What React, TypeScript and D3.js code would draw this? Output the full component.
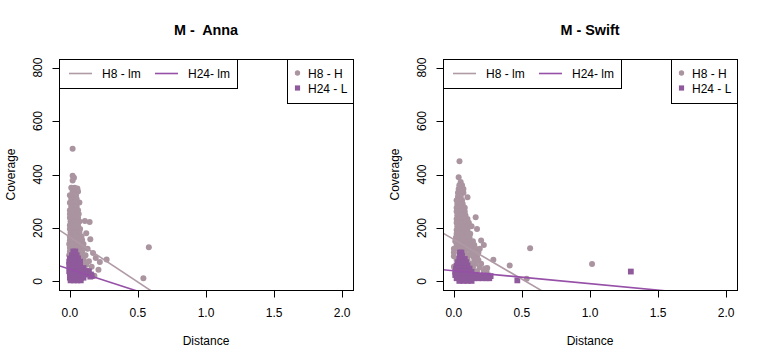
import React from "react";
import * as d3 from "d3";

type P = [number, number];

const xTicks = [0, 0.5, 1, 1.5, 2];
const xTickLabels = ["0.0", "0.5", "1.0", "1.5", "2.0"];
const yTicks = [0, 200, 400, 600, 800];
const panelTitles = ["M -  Anna", "M - Swift"];
const pointNames = ["H8 - H", "H24 - L"];
const lineNames = ["H8 - lm", "H24- lm"];

// Anna, H8 (circles)
const annaH8: P[] = [
  [0.02, 496], [0.02, 395], [0.03, 388], [0.02, 378], [0.07, 295], [0.11, 226], [0.145, 222],
  [0.12, 180], [0.15, 158], [0.09, 155], [0.1, 140], [0.13, 122], [0.17, 106], [0.115, 98],
  [0.19, 88], [0.27, 82], [0.14, 76], [0.22, 73], [0.12, 62], [0.16, 55], [0.21, 44], [0.13, 40],
  [0.18, 21], [0.58, 128], [0.54, 12],
  [0.01, 350], [0.035, 350], [0.055, 348],
  [0.02, 336], [0.04, 336], [0.06, 336],
  [0.0, 322], [0.025, 322], [0.045, 322],
  [0.01, 308], [0.03, 308], [0.05, 308],
  [0.0, 294], [0.02, 294], [0.04, 294],
  [0.01, 280], [0.03, 280], [0.05, 280],
  [0.0, 266], [0.02, 266], [0.04, 266], [0.06, 266],
  [0.0, 252], [0.025, 252], [0.05, 252], [0.065, 252],
  [0.0, 238], [0.02, 238], [0.04, 238], [0.06, 238],
  [0.005, 224], [0.03, 224], [0.05, 224], [0.07, 224],
  [0.0, 210], [0.02, 210], [0.04, 210], [0.06, 210],
  [0.0, 196], [0.025, 196], [0.05, 196], [0.075, 196],
  [0.005, 182], [0.03, 182], [0.05, 182], [0.07, 182],
  [0.0, 168], [0.02, 168], [0.04, 168], [0.06, 168], [0.085, 168],
  [0.0, 154], [0.025, 154], [0.05, 154], [0.07, 154],
  [-0.005, 140], [0.02, 140], [0.04, 140], [0.06, 140], [0.08, 140],
  [0.0, 126], [0.025, 126], [0.05, 126], [0.075, 126], [0.1, 126],
  [0.0, 112], [0.02, 112], [0.045, 112], [0.07, 112], [0.09, 112],
  [-0.005, 98], [0.02, 98], [0.04, 98], [0.065, 98], [0.09, 98],
  [0.0, 84], [0.03, 84], [0.06, 84], [0.08, 84], [0.1, 84],
  [0.0, 70], [0.03, 70], [0.06, 70], [0.09, 70], [0.12, 70],
  [0.0, 56], [0.04, 56], [0.08, 56], [0.1, 56],
  [0.0, 42], [0.05, 42], [0.09, 42], [0.11, 42],
  [0.02, 28], [0.06, 28], [0.1, 28],
  [0.03, 14], [0.08, 14],
];

// Anna, H24 (squares)
const annaH24: P[] = [
  [0.025, 112], [0.04, 112],
  [0.015, 98], [0.035, 98], [0.05, 98],
  [0.0, 86], [0.02, 86], [0.04, 86], [0.06, 86],
  [-0.005, 74], [0.02, 74], [0.04, 74], [0.06, 74], [0.075, 74],
  [-0.005, 62], [0.015, 62], [0.035, 62], [0.055, 62], [0.075, 62],
  [0.0, 50], [0.02, 50], [0.04, 50], [0.06, 50], [0.08, 50], [0.1, 50],
  [-0.005, 38], [0.015, 38], [0.035, 38], [0.055, 38], [0.075, 38], [0.095, 38], [0.12, 38], [0.14, 38],
  [0.0, 26], [0.02, 26], [0.04, 26], [0.06, 26], [0.08, 26], [0.1, 26], [0.13, 26], [0.155, 26],
  [0.0, 14], [0.02, 14], [0.04, 14], [0.06, 14], [0.08, 14], [0.1, 14], [0.15, 18], [0.16, 20],
  [0.005, 4], [0.03, 4], [0.055, 4], [0.08, 4],
];

// Swift, H8 (circles)
const swiftH8: P[] = [
  [0.041, 450], [0.035, 390], [0.05, 372], [0.41, 60], [0.56, 124], [0.535, 10], [1.015, 65],
  [0.2, 153], [0.16, 240], [0.0, 55], [0.29, 81], [0.245, 50],
  [0.04, 360], [0.06, 360],
  [0.035, 346], [0.055, 346], [0.07, 346],
  [0.03, 332], [0.05, 332], [0.07, 332],
  [0.03, 318], [0.05, 318], [0.1, 315],
  [0.02, 304], [0.04, 304], [0.06, 304],
  [0.025, 290], [0.045, 290], [0.065, 290],
  [0.02, 276], [0.04, 276], [0.06, 276], [0.08, 276],
  [0.02, 262], [0.04, 262], [0.06, 262], [0.08, 262],
  [0.025, 248], [0.045, 248], [0.065, 248], [0.085, 248],
  [0.02, 234], [0.04, 234], [0.06, 234], [0.08, 234], [0.1, 234],
  [0.02, 220], [0.045, 220], [0.07, 220], [0.09, 220], [0.11, 220],
  [0.025, 206], [0.05, 206], [0.075, 206], [0.1, 206], [0.13, 206],
  [0.02, 192], [0.04, 192], [0.06, 192], [0.08, 192], [0.1, 192], [0.17, 196],
  [0.02, 178], [0.045, 178], [0.07, 178], [0.095, 178], [0.12, 178],
  [0.015, 164], [0.04, 164], [0.065, 164], [0.09, 164], [0.115, 164],
  [0.01, 150], [0.035, 150], [0.06, 150], [0.085, 150], [0.11, 150], [0.14, 150],
  [0.02, 136], [0.045, 136], [0.07, 136], [0.095, 136], [0.12, 136], [0.15, 136], [0.22, 136],
  [0.0, 122], [0.03, 122], [0.055, 122], [0.08, 122], [0.105, 122], [0.13, 122], [0.16, 122], [0.19, 122],
  [0.0, 108], [0.04, 108], [0.08, 108], [0.12, 108], [0.15, 108], [0.18, 108],
  [0.0, 94], [0.05, 94], [0.1, 94], [0.14, 94], [0.17, 94],
  [0.02, 80], [0.1, 80], [0.15, 80], [0.18, 80],
  [0.03, 66], [0.12, 66], [0.16, 66], [0.2, 66],
  [0.14, 52], [0.19, 52], [0.23, 48],
  [0.17, 38], [0.22, 38], [0.24, 36],
];

// Swift, H24 (squares)
const swiftH24: P[] = [
  [0.466, 4], [1.3, 37],
  [0.045, 108], [0.055, 108],
  [0.045, 96], [0.06, 96],
  [0.04, 84], [0.06, 84], [0.08, 84],
  [0.03, 72], [0.05, 72], [0.07, 72], [0.09, 72],
  [0.02, 60], [0.04, 60], [0.06, 60], [0.08, 60], [0.1, 60],
  [0.015, 48], [0.035, 48], [0.055, 48], [0.075, 48], [0.095, 48], [0.115, 48],
  [0.01, 36], [0.03, 36], [0.05, 36], [0.07, 36], [0.09, 36], [0.11, 36], [0.13, 36],
  [0.01, 24], [0.03, 24], [0.05, 24], [0.07, 24], [0.09, 24], [0.11, 24], [0.13, 24], [0.16, 24],
  [0.19, 22], [0.22, 22], [0.25, 22], [0.27, 20],
  [0.02, 12], [0.04, 12], [0.06, 12], [0.08, 12], [0.1, 12], [0.12, 12], [0.15, 12], [0.18, 12],
  [0.21, 12], [0.24, 12], [0.26, 12],
  [0.04, 2], [0.07, 2], [0.1, 2], [0.13, 2],
];

// Fitted lines: [intercept, slope]
const annaH8Fit: P = [166, -337];
const annaH24Fit: P = [45.7, -165];
const swiftH8Fit: P = [157, -297];
const swiftH24Fit: P = [39.8, -48.2];

const H8_COL = "#AA94A0";
const H24_COL = "#8F5A9B";
const H8_LINE = "#B09AA6";
const H24_LINE = "#9650A8";
const FONT = "'Liberation Sans', Arial, Helvetica, sans-serif";
const R = 3;
const S = 5.8;

function Panel({ dx, title, h8, h24, fit8, fit24, id }: { dx: number; title: string; h8: P[]; h24: P[]; fit8: P; fit24: P; id: string }) {
  const left = 59 + dx, right = 353 + dx, top = 59, bottom = 290;
  const x = d3.scaleLinear().domain([-0.08, 2.08]).range([left, right]);
  const y = d3.scaleLinear().domain([-32, 832]).range([bottom, top]);
  const cx = (left + right) / 2;
  const lineGen = d3.line<P>().x((d) => x(d[0])).y((d) => y(d[1]));
  const fitPts = (f: P): P[] => x.domain().map((v) => [v, f[0] + f[1] * v] as P);
  return (
    <g fontFamily={FONT}>
      <defs>
        <clipPath id={id}>
          <rect x={left} y={top} width={right - left} height={bottom - top} />
        </clipPath>
      </defs>
      <text x={cx} y={35} textAnchor="middle" fontWeight="bold" fontSize={14.4} style={{ whiteSpace: "pre" }}>{title}</text>
      <g clipPath={`url(#${id})`}>
        {h8.map((d, i) => (
          <circle key={"a" + i} cx={x(d[0])} cy={y(d[1])} r={R} fill={H8_COL} />
        ))}
        {h24.map((d, i) => (
          <rect key={"b" + i} x={x(d[0]) - S / 2} y={y(d[1]) - S / 2} width={S} height={S} fill={H24_COL} />
        ))}
        <path d={lineGen(fitPts(fit8)) || ""} stroke={H8_LINE} strokeWidth={1.6} fill="none" />
        <path d={lineGen(fitPts(fit24)) || ""} stroke={H24_LINE} strokeWidth={1.6} fill="none" />
      </g>
      <rect x={left + 0.5} y={top + 0.5} width={right - left} height={bottom - top} fill="none" stroke="#000" strokeWidth={1} />
      {xTicks.map((t, i) => (
        <g key={"x" + i}>
          <line x1={Math.round(x(t)) + 0.5} x2={Math.round(x(t)) + 0.5} y1={bottom + 0.5} y2={bottom + 7.5} stroke="#000" />
          <text x={x(t)} y={317} textAnchor="middle" fontSize={12}>{xTickLabels[i]}</text>
        </g>
      ))}
      {yTicks.map((t, i) => (
        <g key={"y" + i}>
          <line x1={left + 0.5} x2={left - 6.5} y1={Math.round(y(t)) + 0.5} y2={Math.round(y(t)) + 0.5} stroke="#000" />
          <text transform={`translate(${42 + dx},${y(t)}) rotate(-90)`} textAnchor="middle" fontSize={12}>{t}</text>
        </g>
      ))}
      <text x={cx} y={345} textAnchor="middle" fontSize={12}>Distance</text>
      <text transform={`translate(${15 + dx},${(top + bottom) / 2}) rotate(-90)`} textAnchor="middle" fontSize={12}>Coverage</text>
      {/* line legend */}
      <rect x={left + 0.5} y={top + 0.5} width={178} height={29} fill="#fff" stroke="#000" />
      <line x1={69 + dx} x2={92 + dx} y1={73.5} y2={73.5} stroke={H8_LINE} strokeWidth={1.6} />
      <text x={102 + dx} y={78} fontSize={12}>{lineNames[0]}</text>
      <line x1={155 + dx} x2={178 + dx} y1={73.5} y2={73.5} stroke={H24_LINE} strokeWidth={1.6} />
      <text x={188 + dx} y={78} fontSize={12}>{lineNames[1]}</text>
      {/* point legend */}
      <rect x={287.5 + dx} y={top + 0.5} width={66} height={44} fill="#fff" stroke="#000" />
      <circle cx={297.5 + dx} cy={73} r={2.7} fill={H8_COL} />
      <text x={308 + dx} y={77.5} fontSize={12}>{pointNames[0]}</text>
      <rect x={294.9 + dx} y={85.4} width={5.2} height={5.2} fill={H24_COL} />
      <text x={308 + dx} y={92.5} fontSize={12}>{pointNames[1]}</text>
    </g>
  );
}

export default function App() {
  return (
    <svg width={768} height={364} style={{ display: "block", position: "absolute", left: 0, top: 0, background: "#fff" }}>
      <rect width={768} height={364} fill="#fff" />
      <Panel dx={0} id="clipA" title={panelTitles[0]} h8={annaH8} h24={annaH24} fit8={annaH8Fit} fit24={annaH24Fit} />
      <Panel dx={384} id="clipB" title={panelTitles[1]} h8={swiftH8} h24={swiftH24} fit8={swiftH8Fit} fit24={swiftH24Fit} />
    </svg>
  );
}
